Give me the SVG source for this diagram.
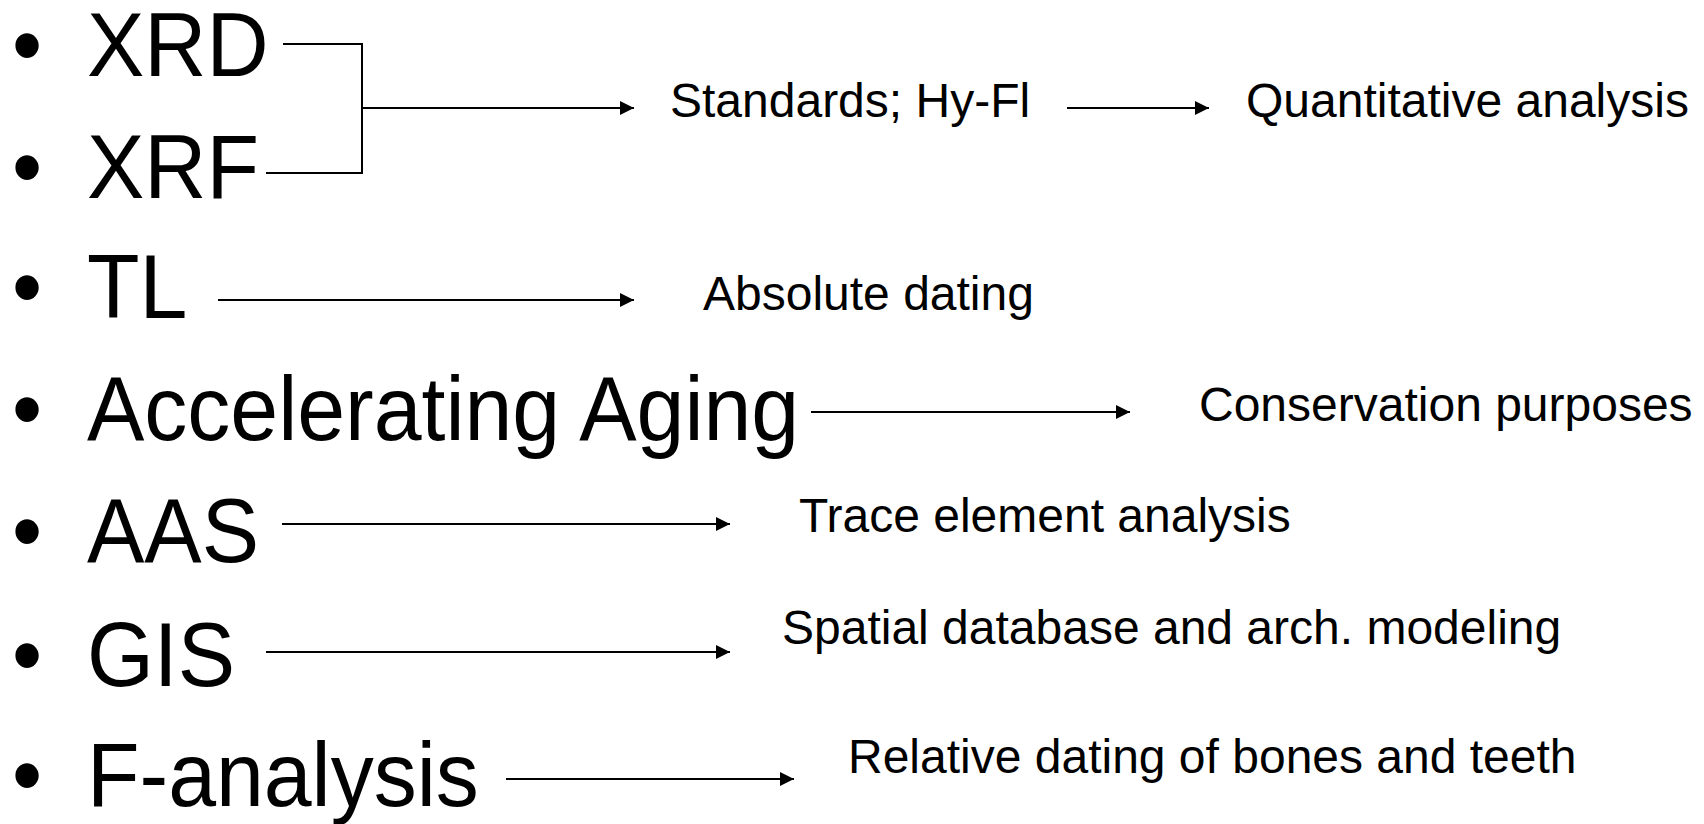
<svg xmlns="http://www.w3.org/2000/svg" width="1704" height="824" viewBox="0 0 1704 824">
<style>
.big{font-family:"Liberation Sans",Arial,sans-serif;font-size:86px;fill:#000}
.sm{font-family:"Liberation Sans",Arial,sans-serif;font-size:48px;fill:#000}
.ln{stroke:#000;stroke-width:2;fill:none}
.ar{stroke:#000;stroke-width:2;fill:none;marker-end:url(#ah)}
</style>
<defs>
<marker id="ah" markerUnits="userSpaceOnUse" markerWidth="16" markerHeight="16" refX="14" refY="7" orient="auto">
<path d="M0,0 L14,7 L0,14 Z" fill="#000"/>
</marker>
</defs>
<rect width="1704" height="824" fill="#fff"/>
<g id="xrd" transform="translate(0,76) scale(1,1.05)"><text class="big" x="12" y="0">•</text><text class="big" x="87" y="0">XRD</text></g>
<g id="xrf" transform="translate(0,198) scale(1,1.05)"><text class="big" x="12" y="0">•</text><text class="big" x="87" y="0">XRF</text></g>
<g id="tl" transform="translate(0,318) scale(1,1.05)"><text class="big" x="12" y="0">•</text><text class="big" x="87" y="0">TL</text></g>
<g id="aging" transform="translate(0,440) scale(1,1.05)"><text class="big" x="12" y="0">•</text><text class="big" x="87" y="0">Accelerating Aging</text></g>
<g id="aas" transform="translate(0,562) scale(1,1.05)"><text class="big" x="12" y="0">•</text><text class="big" x="87" y="0">AAS</text></g>
<g id="gis" transform="translate(0,686) scale(1,1.05)"><text class="big" x="12" y="0">•</text><text class="big" x="87" y="0">GIS</text></g>
<g id="fanalysis" transform="translate(0,806) scale(1,1.05)"><text class="big" x="12" y="0">•</text><text class="big" x="87" y="0">F-analysis</text></g>
<g id="standards"><text class="sm" x="670" y="117">Standards; Hy-Fl</text></g>
<g id="quant"><text class="sm" x="1246" y="117">Quantitative analysis</text></g>
<g id="absdating"><text class="sm" x="703" y="310">Absolute dating</text></g>
<g id="conservation"><text class="sm" x="1199" y="421">Conservation purposes</text></g>
<g id="trace"><text class="sm" x="799" y="532">Trace element analysis</text></g>
<g id="spatial"><text class="sm" x="782" y="644">Spatial database and arch. modeling</text></g>
<g id="relative"><text class="sm" x="848" y="773">Relative dating of bones and teeth</text></g>
<g id="connectors">
<polyline class="ln" points="283,44 362,44 362,173 266,173"/>
<line class="ar" x1="362" y1="108" x2="634" y2="108"/>
<line class="ar" x1="1067" y1="108" x2="1209" y2="108"/>
<line class="ar" x1="218" y1="300" x2="634" y2="300"/>
<line class="ar" x1="811" y1="412" x2="1130" y2="412"/>
<line class="ar" x1="282" y1="524" x2="730" y2="524"/>
<line class="ar" x1="266" y1="652" x2="730" y2="652"/>
<line class="ar" x1="506" y1="779" x2="794" y2="779"/>
</g>
</svg>
